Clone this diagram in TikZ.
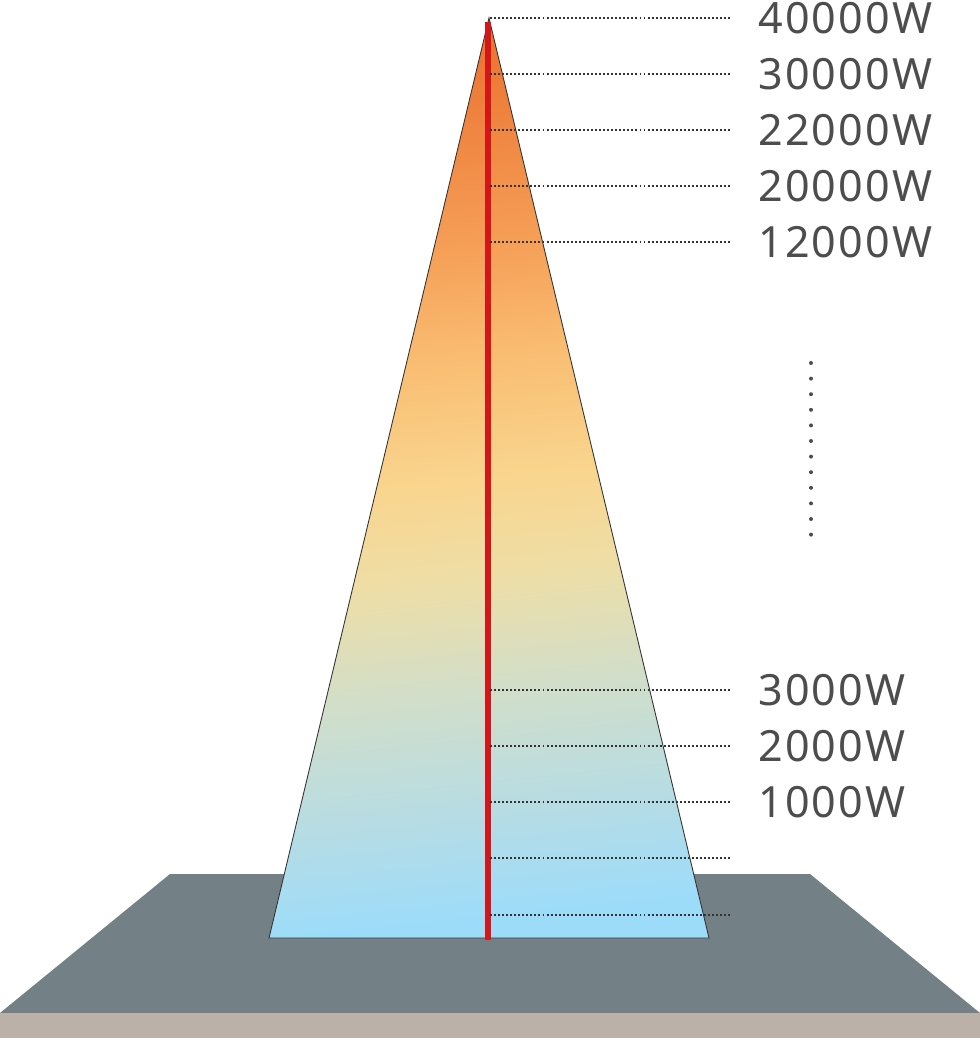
\documentclass[tikz,border=0pt]{standalone}
\usepackage{fontspec}
\setmainfont{Noto Sans}
\usepackage{tikz}
\usetikzlibrary{positioning}
\definecolor{floorgrey}{HTML}{738187}
\definecolor{floorbeige}{HTML}{BBB1A8}
\definecolor{labelgrey}{HTML}{4D4D4D}
\definecolor{tickgrey}{HTML}{333333}
\definecolor{beamred}{HTML}{D4161A}
\definecolor{beamA}{HTML}{9DDCF9}
\definecolor{beamB}{HTML}{B2DCE8}
\definecolor{beamC}{HTML}{D2DEC9}
\definecolor{beamD}{HTML}{EEDEA6}
\definecolor{beamE}{HTML}{F9D58E}
\definecolor{beamF}{HTML}{F9BD72}
\definecolor{beamG}{HTML}{F6A058}
\definecolor{beamH}{HTML}{F08944}
\definecolor{beamI}{HTML}{EC7430}
% path box is the band 25bp..75bp of the shading
\pgfdeclareverticalshading{beam}{100bp}{color(0bp)=(beamA); color(25bp)=(beamA);
  color(29.8bp)=(beamB); color(38bp)=(beamC); color(44.5bp)=(beamD); color(50bp)=(beamE);
  color(57bp)=(beamF); color(63bp)=(beamG); color(69bp)=(beamH); color(75bp)=(beamI);
  color(100bp)=(beamI)}
\tikzstyle{watt}=[anchor=west,inner sep=0,text=labelgrey,
  font=\fontsize{24.5}{28}\selectfont\addfontfeature{LetterSpace=5}]
\tikzstyle{level}=[draw=tickgrey,line width=0.9pt,dash pattern=on 1.1pt off 1.2pt]
\tikzstyle{redline}=[draw=beamred,line width=3.4pt]

\begin{document}
\begin{tikzpicture}[x=0.02cm,y=-0.02cm]
\useasboundingbox (0,0) rectangle (980,1038);
% floor
\fill[floorgrey] (170,874) -- (810,874) -- (980,1013) -- (0,1013) -- cycle;
\fill[floorbeige] (0,1013) rectangle (980,1038);

% beam
\coordinate (apex) at (489,18);
\coordinate (foot) at (488,940);
\path[shading=beam,shading angle=6,draw=tickgrey,line width=0.5pt]
  (apex) -- (709,938) -- (269,938) -- cycle;
\path[redline] ([yshift=-2]apex -| foot) -- (foot);

% power levels
\foreach \y/\t in {18/40000,74/30000,130/22000,186/20000,242/12000,
                   690/3000,746/2000,802/1000}{
  \coordinate (s\t) at (490,\y);
  \coordinate (e\t) at (732,\y);
  \node[watt] (w\t) at (758,\y) {\t W};
  \path[level] (s\t) -- (e\t);
}
\foreach \y/\t in {858/a,915/b}{
  \coordinate (s\t) at (490,\y);
  \coordinate (e\t) at (732,\y);
  \path[level] (s\t) -- (e\t);
}

% gap
\foreach \i in {0,...,11}
  \fill[labelgrey] (811,363+\i*15.6) circle (2);
\end{tikzpicture}
\end{document}
